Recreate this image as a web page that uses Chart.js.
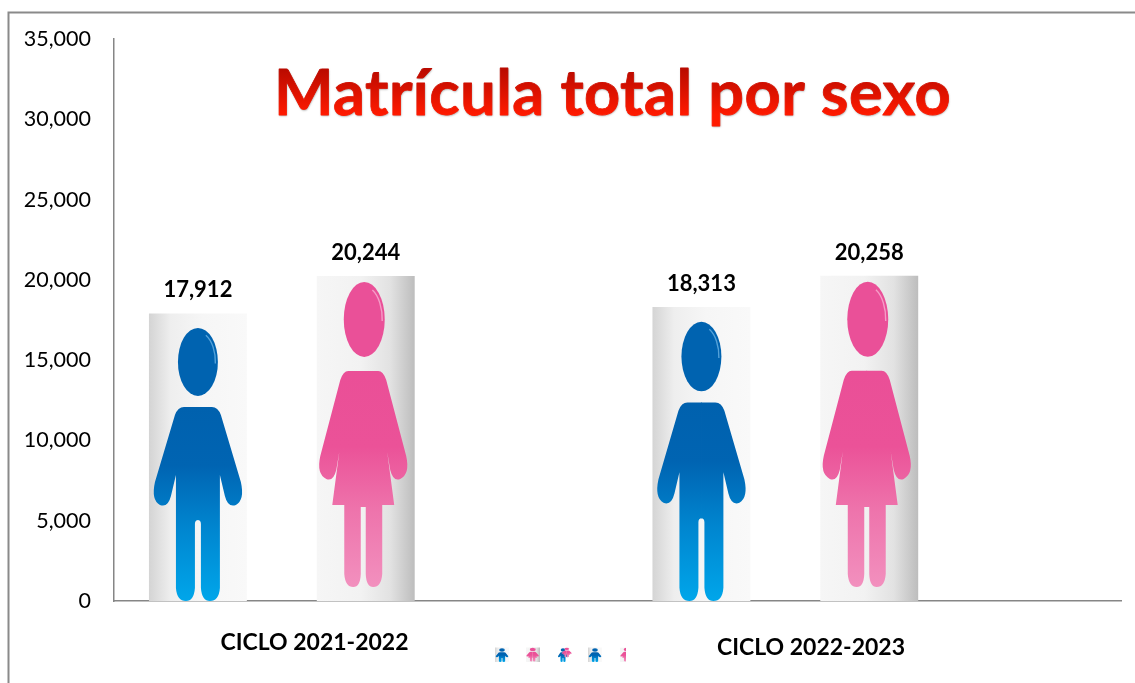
<!DOCTYPE html>
<html><head><meta charset="utf-8">
<style>html,body{margin:0;padding:0;background:#fff;overflow:hidden}canvas{display:block}</style>
<script src="https://cdn.jsdelivr.net/npm/chart.js@4"></script></head>
<body><canvas id="c" width="1135" height="683"></canvas>
<script>
const categories = ["CICLO 2021-2022", "CICLO 2022-2023"];
const hombres = [17912, 18313];
const mujeres = [20244, 20258];
const serie3 = [null, null];
const tickValues = [0, 5000, 10000, 15000, 20000, 25000, 30000, 35000];
const titulo = "Matrícula total por sexo";
const FONT = "Lato, Carlito, Calibri, sans-serif";
const BAR_SHARE = 98 / 168;

// Figures are described on a reference bar and scaled to each bar's geometry.
function mapper(ox, oy, w, h, refTop, refH) {
  return { X: d => ox + d * w / 98, Y: r => oy + (r - refTop) * h / refH };
}
function drawMan(ctx, ox, oy, w, h) {
  const {X, Y} = mapper(ox, oy, w, h, 313.5, 287.5);
  const g = ctx.createLinearGradient(0, Y(407), 0, Y(601));
  g.addColorStop(0, "#0061AE"); g.addColorStop(0.3, "#0064B2");
  g.addColorStop(0.62, "#0085CF"); g.addColorStop(1, "#00A6EA");
  ctx.fillStyle = g;
  [-1, 1].forEach(s => {
    const x = d => X(s * d);
    ctx.beginPath();
    ctx.moveTo(x(-0.4), Y(407));
    ctx.lineTo(x(14), Y(407));
    ctx.quadraticCurveTo(x(20), Y(407), x(23), Y(415));
    ctx.lineTo(x(43), Y(482));
    ctx.quadraticCurveTo(x(47), Y(500), x(38), Y(505));
    ctx.quadraticCurveTo(x(30), Y(508), x(27), Y(496));
    ctx.lineTo(x(22), Y(475));
    ctx.lineTo(x(22), Y(588));
    ctx.quadraticCurveTo(x(21), Y(601), x(12), Y(601));
    ctx.quadraticCurveTo(x(4), Y(601), x(3), Y(588));
    ctx.lineTo(x(3), Y(524));
    ctx.quadraticCurveTo(x(3), Y(520), x(-0.4), Y(520));
    ctx.closePath();
    ctx.fill();
  });
  ctx.fillStyle = "#0063B0";
  ctx.beginPath();
  ctx.ellipse(X(0), Y(362), 20 * w / 98, 34 * h / 287.5, 0, 0, Math.PI * 2);
  ctx.fill();
  ctx.strokeStyle = "rgba(120,190,235,.7)";
  ctx.lineWidth = Math.max(.4, 1.4 * w / 98);
  ctx.beginPath();
  ctx.ellipse(X(0), Y(362), 17.5 * w / 98, 30 * h / 287.5, 0, -1.1, 0.05);
  ctx.stroke();
}
function drawWoman(ctx, ox, oy, w, h) {
  const {X, Y} = mapper(ox, oy, w, h, 276, 325);
  const off = -2.5;
  const g = ctx.createLinearGradient(0, Y(371), 0, Y(587));
  g.addColorStop(0, "#EA4F97"); g.addColorStop(0.35, "#EB5298");
  g.addColorStop(0.65, "#EE74AC"); g.addColorStop(1, "#F290BE");
  ctx.fillStyle = g;
  [-1, 1].forEach(s => {
    const x = d => X(off + s * d);
    ctx.beginPath();
    ctx.moveTo(x(-0.4), Y(371));
    ctx.lineTo(x(15), Y(371));
    ctx.quadraticCurveTo(x(20), Y(371), x(23), Y(380));
    ctx.lineTo(x(43), Y(456));
    ctx.quadraticCurveTo(x(47), Y(474), x(37), Y(479));
    ctx.quadraticCurveTo(x(30), Y(482), x(27), Y(470));
    ctx.lineTo(x(24), Y(452));
    ctx.lineTo(x(31), Y(505));
    ctx.lineTo(x(19), Y(505));
    ctx.lineTo(x(19), Y(574));
    ctx.quadraticCurveTo(x(18), Y(587), x(10), Y(587));
    ctx.quadraticCurveTo(x(3), Y(587), x(2.5), Y(574));
    ctx.lineTo(x(2.5), Y(507));
    ctx.lineTo(x(-0.4), Y(507));
    ctx.closePath();
    ctx.fill();
  });
  ctx.fillStyle = "#EA5098";
  ctx.beginPath();
  ctx.ellipse(X(-1.5), Y(319.5), 20.5 * w / 98, 37.5 * h / 325, 0, 0, Math.PI * 2);
  ctx.fill();
  ctx.strokeStyle = "rgba(250,190,220,.7)";
  ctx.lineWidth = Math.max(.4, 1.4 * w / 98);
  ctx.beginPath();
  ctx.ellipse(X(-1.5), Y(319.5), 18 * w / 98, 33 * h / 325, 0, -1.1, 0.05);
  ctx.stroke();
}
function barFill(stops) {
  return c => {
    const sx = c.chart.scales.x;
    if (!sx || c.dataIndex === undefined) return stops[1][1];
    const slot = sx.width / categories.length / 3;
    const mid = sx.left + slot * (c.dataIndex * 3 + c.datasetIndex + 0.5);
    const half = slot * BAR_SHARE / 2;
    if (!Number.isFinite(mid) || !Number.isFinite(half)) return stops[1][1];
    const g = c.chart.ctx.createLinearGradient(mid - half, 0, mid + half, 0);
    stops.forEach(s => g.addColorStop(s[0], s[1]));
    return g;
  };
}
const manStops = [[0, "#D4D4D4"], [0.22, "#EEEEEE"], [0.55, "#F6F6F6"], [1, "#F9F9F9"]];
const womanStops = [[0, "#F6F6F6"], [0.45, "#F2F2F2"], [0.75, "#E2E2E2"], [1, "#BDBDBD"]];

const scene = {
  id: "scene",
  beforeDraw(chart) {
    const c = chart.ctx;
    c.save();
    c.strokeStyle = "#8A8A8A"; c.lineWidth = 2;
    c.beginPath(); c.moveTo(8.5, 683); c.lineTo(8.5, 12.5); c.lineTo(1135, 12.5); c.stroke();
    c.restore();
  },
  afterDatasetsDraw(chart) {
    const c = chart.ctx;
    const m0 = chart.getDatasetMeta(0).data, m1 = chart.getDatasetMeta(1).data;
    c.save();
    m0.forEach(b => drawMan(c, b.x, b.y, b.width, b.base - b.y));
    m1.forEach(b => drawWoman(c, b.x, b.y, b.width, b.base - b.y));
    // data labels
    c.fillStyle = "#000"; c.font = "bold 22px " + FONT;
    c.textAlign = "center"; c.textBaseline = "middle";
    [[m0, hombres], [m1, mujeres]].forEach(([m, vals]) => m.forEach((b, i) =>
      c.fillText(vals[i].toLocaleString("en-US"), b.x, b.y - 23)));
    // category labels
    c.font = "bold 23px " + FONT;
    c.fillText(categories[0], 314.5, 643);
    c.fillText(categories[1], 811, 648);
    // title
    c.font = "bold 63px " + FONT;
    c.letterSpacing = "0.45px";
    c.textBaseline = "alphabetic";
    c.shadowColor = "rgba(90,90,90,.55)"; c.shadowBlur = 2; c.shadowOffsetY = 1.5; c.shadowOffsetX = 0.5;
    const g = c.createLinearGradient(0, 68, 0, 115);
    g.addColorStop(0, "#B80A00"); g.addColorStop(1, "#FF1A00");
    c.fillStyle = g;
    c.strokeStyle = g; c.lineWidth = 0.8; c.lineJoin = "round";
    c.fillText(titulo, 612.5, 114.5);
    c.shadowColor = "transparent"; c.shadowBlur = 0; c.shadowOffsetX = c.shadowOffsetY = 0;
    c.strokeText(titulo, 612.5, 114.5);
    c.letterSpacing = "0px";
    // tiny legend
    const y = 647.5, w = 14, h = 14.5;
    const cell = (x, stops) => {
      const g2 = c.createLinearGradient(x, 0, x + w, 0);
      stops.forEach(s => g2.addColorStop(s[0], s[1]));
      c.fillStyle = g2; c.fillRect(x, y, w, h);
    };
    cell(495, manStops); drawMan(c, 502, y, w, h);
    cell(526, womanStops); drawWoman(c, 533, y, w, h);
    drawMan(c, 563, y, w * .8, h); drawWoman(c, 567, y, w * .8, h * .7);
    cell(588, manStops); drawMan(c, 595, y, w, h);
    c.beginPath(); c.rect(620, y, 6, h); c.clip();
    cell(620, womanStops); drawWoman(c, 627, y, w, h);
    c.restore();
  }
};

new Chart(document.getElementById("c"), {
  type: "bar",
  plugins: [scene],
  data: {
    labels: categories,
    datasets: [
      { label: "Hombres", data: hombres, backgroundColor: barFill(manStops) },
      { label: "Mujeres", data: mujeres, backgroundColor: barFill(womanStops) },
      { label: "Serie 3", data: serie3, backgroundColor: "#ccc" }
    ]
  },
  options: {
    responsive: false, animation: false, devicePixelRatio: 1,
    layout: { padding: { top: 39, right: 14, bottom: 0, left: 0 } },
    datasets: { bar: { categoryPercentage: 1, barPercentage: BAR_SHARE } },
    plugins: { legend: { display: false }, tooltip: { enabled: false }, title: { display: false } },
    scales: {
      x: {
        afterFit: s => { s.height = 82; },
        grid: { display: false, drawTicks: false },
        border: { display: true, color: "#868686", width: 1.5 },
        ticks: { display: false }
      },
      y: {
        min: 0, max: 35000,
        afterFit: s => { s.width = 114; },
        afterBuildTicks: s => { s.ticks = tickValues.map(v => ({ value: v })); },
        grid: { display: false, drawTicks: false },
        border: { display: true, color: "#868686", width: 1.5 },
        ticks: {
          padding: 23, color: "#000",
          font: { family: FONT, size: 21.5 },
          callback: v => v.toLocaleString("en-US")
        }
      }
    }
  }
});
</script></body></html>
